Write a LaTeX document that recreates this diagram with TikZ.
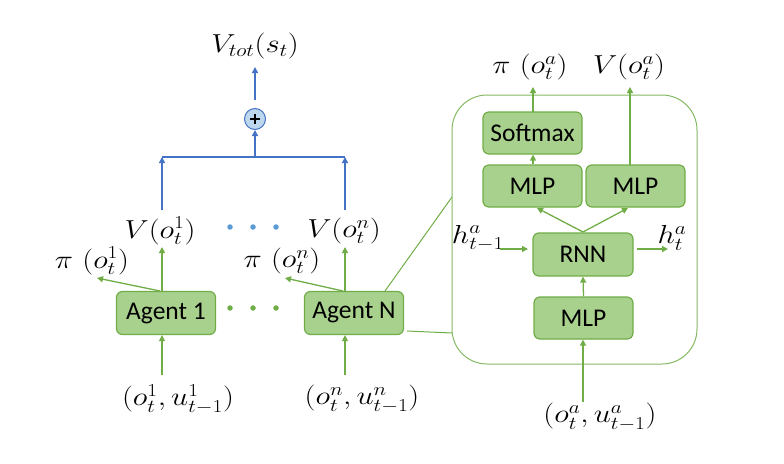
\RequirePackage{fix-cm}
\documentclass[tikz,border=0pt]{standalone}
\usepackage{fontspec}
\newfontfamily\boxfont{Carlito}
\usetikzlibrary{arrows.meta,calc}
\definecolor{gfill}{HTML}{A9D18E}
\definecolor{gline}{HTML}{70AD47}
\definecolor{bline}{HTML}{4472C4}
\definecolor{bfill}{HTML}{BDD7EE}
\definecolor{bdot}{HTML}{5B9BD5}
\newcommand\mlab[1]{\scalebox{1.18}[1]{$#1$}}
\begin{document}
\begin{tikzpicture}[x=1pt,y=-1pt,
 gbox/.style={draw=gline, fill=gfill, rounded corners=6pt, line width=1.2pt, minimum width=99pt, minimum height=43pt, inner sep=0pt, font=\boxfont\fontsize{25.5}{29}\selectfont},
 lbl/.style={inner sep=0pt, font=\fontsize{26}{30}\selectfont},
 garr/.style={draw=gline, line width=1.3pt, -{Triangle[length=6pt,width=6pt]}},
 gln/.style={draw=gline, line width=1.3pt},
 barr/.style={draw=bline, line width=1.3pt, -{Triangle[length=6pt,width=6pt]}},
 bln/.style={draw=bline, line width=1.3pt},
 bdotst/.style={circle, fill=bdot, minimum size=5.5pt, inner sep=0pt},
 gdotst/.style={circle, fill=gline, minimum size=5.5pt, inner sep=0pt},
]
\useasboundingbox (0,0) rectangle (784,463);

% ---- left part: agents ----
\node[lbl] (vtot) at (255,46) {\mlab{V_{tot}(s_t)}};
\node[circle, draw=bline, fill=bfill, line width=1pt, minimum size=21pt, inner sep=0pt] (plus) at (255,119) {};
\draw[line width=1.3pt] (plus.center) ++(-5,0) -- ++(10,0);
\draw[line width=1.3pt] (plus.center) ++(0,-5) -- ++(0,10);
\coordinate (ptop) at (255,100);
\coordinate (vtotb) at (255,67);
\draw[barr] (ptop) -- (vtotb);

\coordinate (jn) at (255,157);
\coordinate (jl) at (162,157);
\coordinate (jr) at (345,157);
\coordinate (v1b) at (162,210);
\coordinate (vnb) at (345,210);
\draw[bln] (jl) -- (jr);
\draw[barr] (v1b) -- (jl);
\draw[barr] (vnb) -- (jr);
\draw[barr] (jn) -- (plus.south);

\node[lbl] (v1) at (160,231) {\mlab{V(o_t^1)}};
\node[lbl] (vn) at (344,231) {\mlab{V(o_t^n)}};
\node[bdotst] (bd1) at (230,227) {};
\node[bdotst] (bd2) at (253,227) {};
\node[bdotst] (bd3) at (276,227) {};

\node[lbl] (p1) at (92,261) {\mlab{\pi\ (o_t^1)}};
\node[lbl] (pn) at (282,261) {\mlab{\pi\ (o_t^n)}};

\node[gbox] (a1) at (166,313) {Agent 1};
\node[gbox] (an) at (354,313) {Agent N};
\node[gdotst] (gd1) at (230,308) {};
\node[gdotst] (gd2) at (253,308) {};
\node[gdotst] (gd3) at (276,308) {};

\coordinate (a1t) at (162,291);
\coordinate (a1v) at (162,247);
\coordinate (a1p) at (97,278);
\coordinate (ant) at (345,291);
\coordinate (anv) at (345,247);
\coordinate (anp) at (285,278);
\draw[garr] (a1t) -- (a1v);
\draw[garr] ([xshift=-2pt]a1t) -- (a1p);
\draw[garr] (ant) -- (anv);
\draw[garr] ([xshift=-2pt]ant) -- (anp);

\node[lbl] (i1) at (178,399) {\mlab{(o_t^1,u_{t-1}^1)}};
\node[lbl] (in) at (362,399) {\mlab{(o_t^n,u_{t-1}^n)}};
\coordinate (i1t) at (162,375);
\coordinate (int) at (345,375);
\draw[garr] (i1t) -- (a1.south -| i1t);
\draw[garr] (int) -- (an.south -| int);

% ---- zoom box ----
\coordinate (z1a) at (385,291);
\coordinate (z1b) at (452,197);
\coordinate (z2a) at (407,331);
\coordinate (z2b) at (452,333);
\draw[gln, line width=1pt] (z1a) -- (z1b);
\draw[gln, line width=1pt] (z2a) -- (z2b);
\draw[draw=gline!85, line width=1pt, rounded corners=35pt] (452,95) rectangle (697,364);

\node[gbox, minimum height=42pt] (soft) at (532.5,133) {Softmax};
\node[gbox, minimum height=42pt] (mlp1) at (532.5,186) {MLP};
\node[gbox, minimum height=42pt] (mlp2) at (635.5,186) {MLP};
\node[gbox, minimum width=100pt] (rnn) at (583,254.5) {RNN};
\node[gbox, minimum height=42pt] (mlp0) at (583.5,318) {MLP};

\node[lbl] (pia) at (530,67) {\mlab{\pi\ (o_t^a)}};
\node[lbl] (va) at (629,67) {\mlab{V(o_t^a)}};
\node[lbl] (hm) at (478,238) {\mlab{h_{t-1}^a}};
\node[lbl] (ht) at (672,238) {\mlab{h_t^a}};
\node[lbl] (ia) at (600,417) {\mlab{(o_t^a,u_{t-1}^a)}};

\coordinate (rt) at (583,232);
\coordinate (m1b) at (537,208);
\coordinate (m2b) at (628,208);
\coordinate (piab) at (533,87);
\coordinate (vab) at (630,87);
\coordinate (m2t) at (630,165);
\coordinate (sft) at (533,112);
\coordinate (hma) at (500,249);
\coordinate (hmb) at (528,249);
\coordinate (hta) at (637,249);
\coordinate (htb) at (668,249);
\coordinate (iat) at (583,402);

\draw[garr] (mlp0.north) -- (rnn.south);
\draw[garr] (rt) -- (m1b);
\draw[garr] (rt) -- (m2b);
\draw[garr] (mlp1.north -| sft) -- (soft.south -| sft);
\draw[garr] (sft) -- (piab);
\draw[garr] (m2t) -- (vab);
\draw[garr] (hma) -- (hmb);
\draw[garr] (hta) -- (htb);
\draw[garr] (iat) -- (mlp0.south -| iat);
\end{tikzpicture}
\end{document}
